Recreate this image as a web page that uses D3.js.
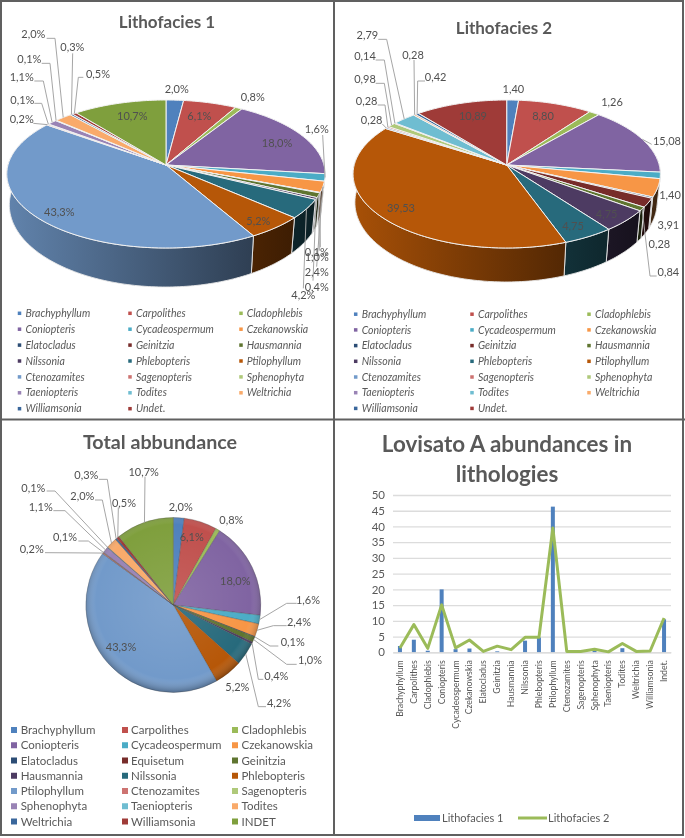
<!DOCTYPE html>
<html><head><meta charset="utf-8">
<script src="https://cdn.jsdelivr.net/npm/d3@7/dist/d3.min.js"></script>
<style>
html,body{margin:0;padding:0;background:#fff}
svg{display:block;filter:blur(0.4px)}
text{font-family:Lato,"Open Sans",sans-serif}
</style></head><body>
<div id="chart"></div>
<script>
// ---------- data ----------
const categories20 = ["Brachyphyllum","Carpolithes","Cladophlebis","Coniopteris","Cycadeospermum","Czekanowskia","Elatocladus","Geinitzia","Hausmannia","Nilssonia","Phlebopteris","Ptilophyllum","Ctenozamites","Sagenopteris","Sphenophyta","Taeniopteris","Todites","Weltrichia","Williamsonia","Undet."];
const categories21 = ["Brachyphyllum","Carpolithes","Cladophlebis","Coniopteris","Cycadeospermum","Czekanowskia","Elatocladus","Equisetum","Geinitzia","Hausmannia","Nilssonia","Phlebopteris","Ptilophyllum","Ctenozamites","Sagenopteris","Sphenophyta","Taeniopteris","Todites","Weltrichia","Williamsonia","INDET"];
const barCategories = ["Brachyphyllum","Carpolithes","Cladophlebis","Coniopteris","Cycadeospermum","Czekanowskia","Elatocladus","Geinitzia","Hausmannia","Nilssonia","Phlebopteris","Ptilophyllum","Ctenozamites","Sagenopteris","Sphenophyta","Taeniopteris","Todites","Weltrichia","Williamsonia","Indet."];
const lith1Percent = [2.0,6.1,0.8,18.0,1.6,2.4,0.1,0,1.0,0.4,4.2,5.2,43.3,0.2,0.1,1.1,0.1,2.0,0.3,0.5,10.7];
const lith2Percent = [1.40,8.80,1.26,15.08,1.40,3.91,0.28,1.96,0.84,4.75,4.75,39.53,0.28,0.28,0.98,0.14,2.79,0.28,0.42,10.89];
const lith1Bars = [2,4,0.5,20,1,1.2,0,0.3,0,3.7,4.7,46.3,0,0,0.6,0,1.3,0,0,10.5];
const palette = ["#4F81BD","#C0504D","#9BBB59","#8064A2","#4BACC6","#F79646","#2C4D75","#772C2A","#5F7530","#4D3B62","#276A7C","#B65708","#729ACA","#CD7371","#AFC97A","#9983B5","#6FBDD1","#F9AA6A","#3A679C","#9F3B38","#7F9F3D"];
const yTicks = [0,5,10,15,20,25,30,35,40,45,50];

// ---------- layout (3x-zoom units of the panel crops): text x,y, then leader points ----------
const lab1 = [[530,267],[598,347],[758,291],[831,428],[950,387,[[968,405]]],[950,816,[[950,800]]],[950,757,[[961,742]]],null,[950,772,[[958,752]]],[950,860,[[939,842]]],[910,884,[[910,865]]],[775,663],[178,637],
 [65,357,[[100,370]]],[67,299,[[103,310],[125,310]]],[65,231,[[103,243],[130,243]]],[88,178,[[125,190],[150,190]]],[100,102,[[140,115],[165,115]]],[217,142,[[218,160]]],[294,222,[[250,232],[235,232]]],[397,347]];
const lab2 = [[535,267],[624,347],[831,305],[996,423,[[950,433]]],[1005,585],[1000,676],[973,732],null,[1000,816,[[965,828],[945,828]]],[815,642],[714,679],[198,624],
 [110,360,[[142,372]]],[95,302,[[128,315],[150,315]]],[90,238,[[122,250],[148,250]]],[90,168,[[122,180],[148,180]]],[97,105,[[130,118],[155,118]]],[234,165,[[237,180]]],[302,231,[[270,243],[248,243]]],[414,347]];
const lab3 = [[542,260],[575,352],[694,301],[706,483],[924,539,[[890,550],[860,550]]],[897,605,[[860,617],[820,617]]],[878,665,[[835,678],[810,678]]],null,[930,721,[[890,733],[860,733]]],[829,767,[[790,778],[775,778]]],[837,850,[[798,860],[775,860]]],[712,802],[363,680],
 [95,387,[[135,398]]],[195,351,[[235,363],[265,363]]],[122,262,[[160,272],[195,272]]],[100,205,[[140,213],[165,213]]],[247,229,[[285,240],[307,240]]],[259,165,[[297,178],[322,178]]],[372,250,[[355,262]]],[431,156,[[435,170]]]];

const W=685,H=838, GRAY="#595959";
const svg=d3.select("#chart").append("svg").attr("width",W).attr("height",H).attr("viewBox",`0 0 ${W} ${H}`);
const defs=svg.append("defs");
svg.append("rect").attr("width",W).attr("height",H).attr("fill","#fff");

const pieGen=d3.pie().sort(null).value(d=>d);
const fmt=(v,dec,suffix)=>d3.format("."+dec+"f")(v).replace(".",",")+suffix;

function shade(c,f){const r=d3.rgb(c);return d3.rgb(r.r*f,r.g*f,r.b*f).formatHex();}

function pie3d(o){
  const arcs=pieGen(o.values);
  const proj=(t,p)=>{const u=Math.sin(t),v=Math.cos(t),d=1+p.k*v;return [p.cx+p.rx*u/d,p.cy-p.a*v/d];};
  const line=d3.line();
  const samples=(a,b)=>{const n=Math.max(2,Math.ceil((b-a)/0.02));return d3.range(n+1).map(i=>a+(b-a)*i/n);};
  const gradIds={};
  const gradFor=c=>{
    if(gradIds[c])return gradIds[c];
    const id="w"+o.id+"_"+c.slice(1);gradIds[c]=id;
    const g=defs.append("linearGradient").attr("id",id).attr("gradientUnits","userSpaceOnUse")
      .attr("x1",o.top.cx-o.top.rx).attr("x2",o.top.cx+o.top.rx).attr("y1",0).attr("y2",0);
    g.append("stop").attr("offset",0).attr("stop-color",shade(c,o.wallL));
    g.append("stop").attr("offset",1).attr("stop-color",shade(c,o.wallR));
    return id;
  };
  const wallA=Math.PI*0.47, wallB=Math.PI*1.53;
  const gw=svg.append("g");
  arcs.forEach((d,i)=>{
    if(d.value===0)return;
    const a=Math.max(d.startAngle,wallA), b=Math.min(d.endAngle,wallB);
    if(b<=a)return;
    const ts=samples(a,b);
    const pts=ts.map(t=>proj(t,o.top)).concat(ts.slice().reverse().map(t=>proj(t,o.bot)));
    gw.append("path").attr("d",line(pts)+"Z").attr("fill",`url(#${gradFor(o.colors[i])})`)
      .attr("stroke","#e8e8e8").attr("stroke-width",0.9);
  });
  const gt=svg.append("g");
  arcs.forEach((d,i)=>{
    if(d.value===0)return;
    const pts=[[o.top.cx,o.top.cy]].concat(samples(d.startAngle,d.endAngle).map(t=>proj(t,o.top)));
    gt.append("path").attr("d",line(pts)+"Z").attr("fill",o.colors[i]).attr("stroke","#f2f2f2").attr("stroke-width",1);
  });
  labels(arcs,o,d=>proj((d.startAngle+d.endAngle)/2,o.top));
}

function labels(arcs,o,rim){
  const g=svg.append("g");
  arcs.forEach((d,i)=>{
    const L=o.labels[i]; if(!L)return;
    const P=([x,y])=>[x/3+o.ox,y/3+o.oy];
    if(L[2]){
      const pts=L[2].map(P).concat([rim(d)]);
      g.append("path").attr("d",d3.line()(pts)).attr("fill","none").attr("stroke","#a6a6a6").attr("stroke-width",1);
    }
  });
  arcs.forEach((d,i)=>{
    const L=o.labels[i]; if(!L)return;
    g.append("text").attr("x",L[0]/3+o.ox).attr("y",L[1]/3+o.oy).attr("dy","0.35em").attr("text-anchor","middle")
      .attr("font-size",o.fs||11).attr("fill","#505050").text(fmt(d.value,o.dec,o.suffix));
  });
}

function legend(names,colors,o){
  const g=svg.append("g");
  names.forEach((n,i)=>{
    const c=i%3,r=Math.floor(i/3);
    const y=o.y0+r*o.dy;
    const cell=g.append("g");
    cell.append("rect").attr("x",o.mx[c]-o.ms/2).attr("y",y-o.ms/2).attr("width",o.ms).attr("height",o.ms).attr("fill",colors[i]);
    cell.append("text").attr("x",o.tx[c]).attr("y",y).attr("dy","0.35em").attr("font-size",o.fs)
      .attr("font-style",o.italic?"italic":"normal").attr("fill",GRAY).text(n);
  });
}

function title(t,x,y,fs){
  svg.append("text").attr("x",x).attr("y",y).attr("text-anchor","middle").attr("font-size",fs)
    .attr("font-weight",700).attr("fill",GRAY).text(t);
}

// ---------- Lithofacies 1 ----------
title("Lithofacies 1",167,28,17);
pie3d({id:"a",values:lith1Percent,colors:palette,labels:lab1,dec:1,suffix:"%",ox:0,oy:0,wallL:.85,wallR:.28,
  top:{cx:166,cy:165,rx:158,a:72.9,k:.1216},bot:{cx:165.5,cy:195,rx:155,a:80.8,k:.122}});
legend(categories20,palette,{y0:313.3,dy:15.9,mx:[19.5,130,241],tx:[25.5,136,246.7],ms:3.5,fs:10.5,italic:true});

// ---------- Lithofacies 2 ----------
title("Lithofacies 2",504,34,17);
pie3d({id:"b",values:lith2Percent,colors:palette.slice(0,20),labels:lab2,dec:2,suffix:"",ox:335,oy:0,wallL:.92,wallR:.25,
  top:{cx:506.7,cy:165,rx:152.5,a:72.9,k:.1216},bot:{cx:506,cy:193,rx:150,a:78.3,k:.12}});
legend(categories20,palette,{y0:314.2,dy:15.7,mx:[355.7,472,589],tx:[361.7,478,595],ms:3.5,fs:10.5,italic:true});

// ---------- Total abundance ----------
title("Total abbundance",160,449,19.7);
(function(){
  const cx=173.3,cy=605,r=87.5;
  const arcs=pieGen(lith1Percent);
  const arc=d3.arc().innerRadius(0).outerRadius(r);
  const g=svg.append("g").attr("transform",`translate(${cx},${cy})`);
  const rg=defs.append("radialGradient").attr("id","bevel").attr("cx","50%").attr("cy","48%").attr("r","52%");
  rg.append("stop").attr("offset","0").attr("stop-color","#fff").attr("stop-opacity",.1);
  rg.append("stop").attr("offset","0.85").attr("stop-color","#fff").attr("stop-opacity",0);
  rg.append("stop").attr("offset","1").attr("stop-color","#000").attr("stop-opacity",.3);
  g.selectAll("path.s").data(arcs).enter().filter(d=>d.value>0).append("path").attr("class","s")
    .attr("d",arc).attr("fill",d=>palette[d.index]).attr("stroke","rgba(60,60,60,.35)").attr("stroke-width",.8);
  g.append("circle").attr("r",r).attr("fill","url(#bevel)");
  const rim=d=>{const m=(d.startAngle+d.endAngle)/2;return [cx+r*Math.sin(m),cy-r*Math.cos(m)];};
  labels(arcs,{labels:lab3,dec:1,suffix:"%",ox:0,oy:420,fs:11},rim);
})();
legend(categories21,palette,{y0:730,dy:15.25,mx:[14,125,235],tx:[20.7,131,241.5],ms:6,fs:11.5,italic:false});

// ---------- Bar + line ----------
title("Lovisato A abundances in",507,452,22.4);
title("lithologies",507,482,22.4);
(function(){
  const x=d3.scaleBand().domain(barCategories).range([393,671]);
  const y=d3.scaleLinear().domain([0,50]).range([652.3,495]);
  const gy=svg.append("g").attr("transform","translate(393,0)")
    .call(d3.axisLeft(y).tickValues(yTicks).tickSize(-278).tickPadding(8));
  gy.select(".domain").remove();
  gy.selectAll("line").attr("stroke","#dcdcdc").attr("stroke-width",1.3);
  gy.selectAll("text").attr("font-size",11.5).attr("fill",GRAY).style("font-family","Lato");
  svg.append("g").selectAll("rect").data(lith1Bars).enter().append("rect")
    .attr("x",(d,i)=>x(barCategories[i])+x.bandwidth()/2-2).attr("width",4)
    .attr("y",d=>y(d)).attr("height",d=>y(0)-y(d)).attr("fill","#4F81BD");
  const gx=svg.append("g").attr("transform","translate(0,652.3)").call(d3.axisBottom(x).tickSize(0).tickPadding(0));
  gx.select(".domain").attr("stroke","#d9d9d9").attr("stroke-width",1);
  gx.selectAll("text").attr("font-size",8.7).attr("fill",GRAY).attr("text-anchor","end").attr("dy",0)
    .attr("transform","translate(3,8) rotate(-90)").style("font-family","Lato").attr("x",0).attr("y",0);
  svg.append("path").datum(lith2Percent)
    .attr("d",d3.line().x((d,i)=>x(barCategories[i])+x.bandwidth()/2).y(d=>y(d)))
    .attr("fill","none").attr("stroke","#9BBB59").attr("stroke-width",3).attr("stroke-linejoin","round");
  const lg=svg.append("g");
  lg.append("rect").attr("x",414).attr("y",815).attr("width",26).attr("height",6).attr("fill","#4F81BD");
  lg.append("text").attr("x",442).attr("y",818).attr("dy","0.35em").attr("font-size",11).attr("fill",GRAY).text("Lithofacies 1");
  lg.append("line").attr("x1",518).attr("x2",547).attr("y1",818).attr("y2",818).attr("stroke","#9BBB59").attr("stroke-width",3);
  lg.append("text").attr("x",548).attr("y",818).attr("dy","0.35em").attr("font-size",11).attr("fill",GRAY).text("Lithofacies 2");
})();

// ---------- panel borders ----------
const frame=svg.append("g").attr("fill","none").attr("stroke","#606060").attr("stroke-width",2);
frame.append("rect").attr("x",1).attr("y",1).attr("width",W-3).attr("height",H-4);
frame.append("line").attr("x1",0).attr("x2",W).attr("y1",419.5).attr("y2",419.5);
frame.append("line").attr("x1",334).attr("x2",334).attr("y1",0).attr("y2",H-2);
</script></body></html>
